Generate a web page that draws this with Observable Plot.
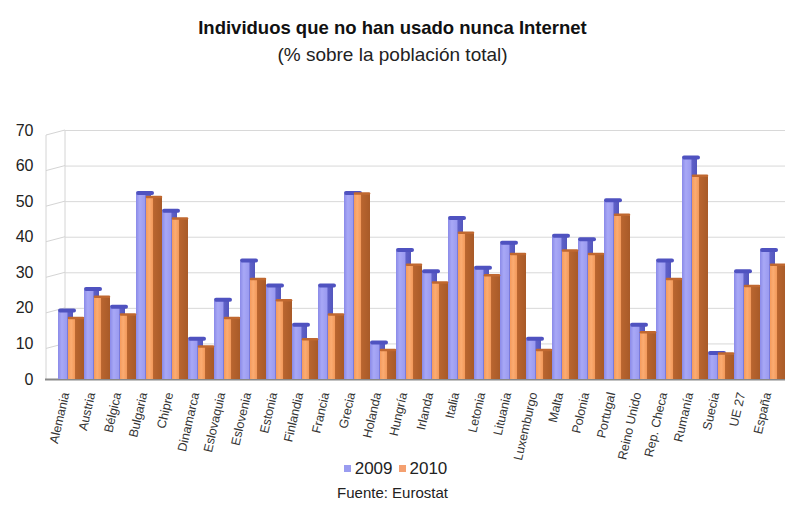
<!DOCTYPE html>
<html>
<head>
<meta charset="utf-8">
<script src="https://cdn.jsdelivr.net/npm/d3@7"></script>
<script src="https://cdn.jsdelivr.net/npm/@observablehq/plot@0.6"></script>
<style>
  html, body { margin: 0; padding: 0; background: #fff; overflow: hidden; }
  #wrap { position: relative; width: 785px; height: 506px; overflow: hidden; font-family: "Liberation Sans", Arial, sans-serif; color: #111; }
  .title { position: absolute; top: 17px; left: 0; width: 785px; text-align: center; font-weight: bold; font-size: 18.5px; }
  .subtitle { position: absolute; top: 44px; left: 0; width: 785px; text-align: center; font-size: 19px; color: #222; }
  #chart { position: absolute; top: 110px; left: 0; }
  .legend { position: absolute; top: 459px; left: 0; width: 785px; text-align: center; font-size: 17px; color: #222; }
  .legend span.sw { display: inline-block; width: 7px; height: 7px; margin: 0 4px 2px 6px; }
  .caption { position: absolute; top: 484px; left: 0; width: 785px; text-align: center; font-size: 15px; color: #222; }
</style>
</head>
<body>
<div id="wrap">
  <div class="title">Individuos que no han usado nunca Internet</div>
  <div class="subtitle">(% sobre la población total)</div>
  <div id="chart"></div>
  <div class="legend" id="legend"></div>
  <div class="caption">Fuente: Eurostat</div>
</div>
<script>
const countries = ["Alemania","Austria","Bélgica","Bulgaria","Chipre","Dinamarca","Eslovaquia","Eslovenia","Estonia","Finlandia","Francia","Grecia","Holanda","Hungría","Irlanda","Italia","Letonia","Lituania","Luxemburgo","Malta","Polonia","Portugal","Reino Unido","Rep. Checa","Rumanía","Suecia","UE 27","España"];
const values2009 = [19,25,20,52,47,11,22,33,26,15,26,52,10,36,30,45,31,38,11,40,39,50,15,33,62,7,30,36];
const values2010 = [17,23,18,51,45,9,17,28,22,11,18,52,8,32,27,41,29,35,8,36,35,46,13,28,57,7,26,32];
const seriesNames = ["2009","2010"];
const yTicks = [0,10,20,30,40,50,60,70];

const rows = countries.map((c, i) => ({country: c, v2009: values2009[i], v2010: values2010[i]}));

const chart = Plot.plot({
  width: 785,
  height: 360,
  marginTop: 20,
  marginBottom: 91,
  marginLeft: 55,
  marginRight: -4,
  style: {background: "transparent", fontFamily: "Liberation Sans, Arial, sans-serif", overflow: "visible"},
  x: {domain: countries, padding: 0, label: null},
  y: {domain: [0, 70], label: null},
  marks: [
    Plot.gridY(yTicks.slice(1), {stroke: "#d8d8d8", strokeOpacity: 1, insetLeft: 10}),
    Plot.ruleY([0], {stroke: "#888", strokeWidth: 2, insetLeft: -10}),
    Plot.barY(rows, {x: "country", y: "v2009", fill: "url(#gBlue)", insetLeft: 0, insetRight: 11}),
    Plot.tickY(rows, {x: "country", y: "v2009", stroke: "#4f52c0", strokeWidth: 4, dy: -1.5, insetLeft: 2, insetRight: 10, strokeLinecap: "round"}),
    Plot.barY(rows, {x: "country", y: "v2010", fill: "url(#gOrange)", insetLeft: 10, insetRight: 0}),
    Plot.tickY(rows, {x: "country", y: "v2010", stroke: "#c06830", strokeWidth: 2.5, dy: -1, insetLeft: 11, insetRight: 1, strokeLinecap: "round"}),
    Plot.axisY(yTicks, {tickSize: 0, tickPadding: 22, fontSize: 16, fill: "#222", label: null}),
    Plot.axisX({tickSize: 0, tickPadding: 13, tickRotate: -77, fontSize: 12.5, fill: "#333", dx: -6, label: null})
  ]
});

const svg = d3.select(chart);
const defs = svg.insert("defs", ":first-child");
const gb = defs.append("linearGradient").attr("id", "gBlue").attr("x1", "0").attr("x2", "1").attr("y1", "0").attr("y2", "0");
gb.append("stop").attr("offset", "0").attr("stop-color", "#8a8ae8");
gb.append("stop").attr("offset", "0.25").attr("stop-color", "#a8a8f6");
gb.append("stop").attr("offset", "0.6").attr("stop-color", "#9a9af0");
gb.append("stop").attr("offset", "0.66").attr("stop-color", "#5f61c8");
gb.append("stop").attr("offset", "1").attr("stop-color", "#5356bd");
const go = defs.append("linearGradient").attr("id", "gOrange").attr("x1", "0").attr("x2", "1").attr("y1", "0").attr("y2", "0");
go.append("stop").attr("offset", "0").attr("stop-color", "#f49a5c");
go.append("stop").attr("offset", "0.2").attr("stop-color", "#fbac72");
go.append("stop").attr("offset", "0.42").attr("stop-color", "#f39a5c");
go.append("stop").attr("offset", "0.47").attr("stop-color", "#b9652f");
go.append("stop").attr("offset", "1").attr("stop-color", "#a85a28");

// 3D side wall (drawn behind the bars) from the chart's own y scale
const yScale = chart.scale("y");
const wallFront = 46, wallBack = 65, wallRise = 5;
const wall = svg.insert("g", "defs + *").attr("stroke", "#d4d4d4").attr("fill", "none");
yTicks.slice(1).forEach(t => {
  const yy = yScale.apply(t);
  wall.append("line").attr("x1", wallFront).attr("y1", yy + wallRise).attr("x2", wallBack).attr("y2", yy);
});
const yTop = yScale.apply(yTicks[yTicks.length - 1]), yBottom = yScale.apply(0);
wall.append("line").attr("x1", wallFront).attr("y1", yTop + wallRise).attr("x2", wallFront).attr("y2", yBottom);
wall.append("line").attr("x1", wallBack).attr("y1", yTop).attr("x2", wallBack).attr("y2", yBottom - 1);

document.getElementById("chart").appendChild(chart);

const legendColors = ["#9a9cf0", "#f4a070"];
document.getElementById("legend").innerHTML = seriesNames.map((s, i) =>
  `<span class="sw" style="background:${legendColors[i]}"></span>${s}`).join("");
</script>
</body>
</html>
